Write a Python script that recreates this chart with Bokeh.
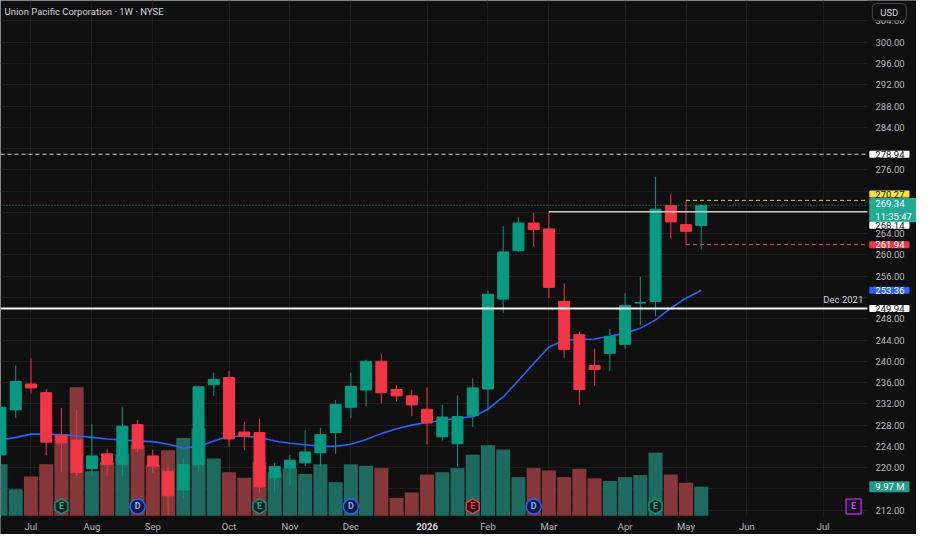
from bokeh.plotting import figure
from bokeh.models import Range1d, FixedTicker, Label, ColumnDataSource, NumeralTickFormatter, BoxAnnotation
from bokeh.embed import file_html
from bokeh.resources import INLINE
from bokeh.core.properties import value
import math

# ---------------- data ----------------
week_idx = list(range(-2, 45))   # weekly bars, 0 = week of 7 Jul 2025

opens = [222.4, 230.86, 235.73, 234.1, 226.1, 225.2, 219.8, 222.6, 220.6, 228.1,
         222.2, 219.3, 215.8, 220.5, 235.6, 236.95, 226.7, 226.6, 218.1, 219.9,
         220.9, 222.8, 226.6, 231.35, 234.6, 240.0, 234.7, 233.5, 230.98, 225.8,
         224.5, 229.75, 234.8, 251.7, 260.8, 266.0, 264.9, 251.25, 245.0, 239.2,
         241.5, 243.2, 250.95, 251.25, 269.3, 265.7, 265.55]
highs = [232.5, 239.2, 240.6, 234.8, 231.2, 230.9, 228.2, 223.55, 231.35, 229.0,
         223.4, 220.2, 221.7, 235.4, 237.9, 238.2, 228.6, 229.2, 220.9, 222.35,
         227.0, 227.5, 232.7, 237.9, 240.3, 241.4, 235.55, 234.6, 235.1, 231.8,
         233.6, 236.8, 253.2, 265.4, 267.1, 267.9, 268.14, 254.6, 245.65, 242.4,
         246.1, 252.8, 255.9, 274.7, 271.5, 270.27, 269.5]
lows = [220.8, 229.34, 233.9, 222.35, 219.1, 218.4, 218.4, 218.4, 218.4, 222.9,
        219.0, 211.1, 214.1, 219.3, 233.5, 223.9, 223.3, 215.3, 215.3, 216.6,
        220.3, 220.2, 222.6, 229.3, 231.5, 232.1, 232.5, 229.65, 224.35, 225.1,
        220.2, 227.65, 230.6, 249.1, 260.56, 261.6, 251.85, 240.6, 231.8, 235.4,
        238.2, 242.4, 246.7, 248.5, 263.1, 261.94, 261.0]
closes = [231.35, 236.22, 235.0, 224.8, 224.65, 219.1, 222.2, 220.6, 227.8, 223.55,
          220.2, 214.7, 220.6, 235.2, 236.6, 225.4, 225.9, 216.4, 220.2, 221.4,
          222.95, 226.2, 231.9, 235.3, 240.0, 234.1, 233.5, 231.8, 228.4, 229.5,
          229.6, 235.0, 252.6, 260.56, 266.0, 264.8, 253.9, 242.25, 234.7, 238.47,
          244.7, 250.5, 251.07, 268.6, 266.2, 264.45, 269.34]
volume_m = [17.6, 9.1, 13.4, 17.6, 27.9, 44.0, 15.2, 18.2, 21.1, 24.1,
            17.4, 22.4, 26.6, 29.9, 19.6, 14.9, 13.0, 18.5, 14.9, 16.2,
            14.3, 17.6, 11.5, 17.6, 17.1, 16.3, 6.1, 8.0, 14.1, 14.9,
            16.3, 20.9, 24.1, 22.7, 13.2, 16.3, 15.5, 13.2, 16.1, 12.8,
            11.9, 13.2, 13.9, 21.6, 14.1, 11.3, 9.97]
ma_values = [225.2, 225.7, 226.3, 226.3, 226.2, 226.0, 225.7, 225.4, 225.2, 225.0,
             224.9, 224.4, 223.7, 224.0, 225.0, 225.9, 225.9, 225.7, 225.0, 224.6,
             224.3, 224.0, 224.0, 224.4, 225.3, 226.4, 227.3, 228.0, 228.5, 228.9,
             229.3, 229.6, 231.0, 233.3, 236.4, 239.6, 242.7, 243.95, 244.1, 244.2,
             244.7, 245.3, 246.2, 247.8, 250.0, 251.85, 253.36]

month_ticks = [0, 4, 8, 13, 17, 21, 26, 30, 34, 39, 43, 47, 52]
month_labels = ["Jul", "Aug", "Sep", "Oct", "Nov", "Dec", "2026", "Feb", "Mar", "Apr", "May", "Jun", "Jul"]
price_ticks = list(range(212, 308, 4))
hidden_price_ticks = [280, 272, 268, 252, 216]   # covered by the price tags

event_idx = [2, 7, 15, 21, 29, 33, 41, 54]
event_kind = ["E", "D", "E", "D", "E", "D", "E", "E"]
event_style = ["earn", "div", "earn", "div", "earn_miss", "div", "earn", "earn_next"]

level_resist = 278.94      # dashed white
level_dec2021 = 249.94     # solid white, "Dec 2021"
level_feb_high = 268.14    # from week 34 high
prev_high = 270.27
prev_low = 261.94
last_price = 269.34
countdown = "11:35:47"
ma_last = 253.36
vol_last = 9.97
feb_high_week = 34
prev_week = 43

# ---------------- style ----------------
BG = "#0f0f0f"
GRID = "#1d1d1d"
TXT = "#b2b5be"
UP = "#089981"
DOWN = "#f23645"
VUP = "#1e6a5f"
VDOWN = "#853739"
FONT = "Roboto"
FS = "9.5px"

X0, X_AX, X_END = -2.0, 54.9, 58.13       # chart pane ends at X_AX, price scale beyond
Y_BOT, Y_PANE, Y_TOP = 207.43, 210.72, 307.85
p = figure(width=916, height=534, output_backend="svg", toolbar_location=None,
           x_range=Range1d(X0, X_END), y_range=Range1d(Y_BOT, Y_TOP),
           y_axis_location="right", background_fill_color=BG, border_fill_color=BG,
           outline_line_color=None, min_border_left=0, min_border_top=0,
           min_border_right=0, min_border_bottom=0)
p.extra_y_ranges = {"vol": Range1d(-6.41, 176.35)}

# axes (labels drawn over the scale strips)
xa = p.xaxis[0]
xa.ticker = FixedTicker(ticks=month_ticks)
overrides = {t: l for t, l in zip(month_ticks, month_labels)}
overrides[26] = ""
xa.major_label_overrides = overrides
ya = p.yaxis[0]
ya.ticker = FixedTicker(ticks=price_ticks)
ya.formatter = NumeralTickFormatter(format="0.00")
ya.major_label_overrides = {t: "" for t in hidden_price_ticks}
for ax in (xa, ya):
    ax.axis_line_color = None
    ax.major_tick_line_color = None
    ax.minor_tick_line_color = None
    ax.major_tick_out = 0
    ax.major_tick_in = 0
    ax.minor_tick_out = 0
    ax.major_label_text_color = TXT
    ax.major_label_text_font_size = FS
    ax.major_label_text_font = FONT
ya.major_label_standoff = -41
xa.major_label_standoff = -14
p.xgrid.ticker = FixedTicker(ticks=month_ticks)
p.ygrid.ticker = FixedTicker(ticks=price_ticks)
p.xgrid.grid_line_color = GRID
p.ygrid.grid_line_color = GRID

# scale strips hide the grid
p.add_layout(BoxAnnotation(left=X_AX, fill_color=BG, fill_alpha=1, line_color=None, level="underlay"))
p.add_layout(BoxAnnotation(top=Y_PANE, fill_color=BG, fill_alpha=1, line_color=None, level="underlay"))

# volume
is_up = [c >= o for o, c in zip(opens, closes)]
src = ColumnDataSource(dict(
    x=week_idx, o=opens, h=highs, l=lows, c=closes, v=volume_m,
    top=[max(o, c) for o, c in zip(opens, closes)],
    bot=[min(o, c) for o, c in zip(opens, closes)],
    col=[UP if u else DOWN for u in is_up],
    vcol=[VUP if u else VDOWN for u in is_up],
))
p.vbar(x="x", width=0.92, top="v", bottom=0, y_range_name="vol",
       fill_color="vcol", line_color=None, source=src)

# moving average
p.line(week_idx, ma_values, line_color="#2962ff", line_width=1.6)

# candles
p.segment(x0="x", y0="l", x1="x", y1="h", line_color="col", line_width=1, source=src)
p.vbar(x="x", width=0.72, top="top", bottom="bot", fill_color="col", line_color="col", source=src)

# levels
p.segment(x0=[X0], y0=[last_price], x1=[X_AX], y1=[last_price], line_color=UP, line_dash="1 2", line_width=1)
p.segment(x0=[X0], y0=[level_resist], x1=[X_AX], y1=[level_resist], line_color="#d1d4dc", line_dash="4 3", line_width=1)
p.segment(x0=[X0], y0=[level_dec2021], x1=[X_AX], y1=[level_dec2021], line_color="#ffffff", line_width=2)
p.segment(x0=[feb_high_week], y0=[level_feb_high], x1=[X_AX], y1=[level_feb_high], line_color="#c9c9c9", line_width=1.5)
p.segment(x0=[prev_week], y0=[prev_high], x1=[X_AX], y1=[prev_high], line_color="#e3d03c", line_width=1, line_dash="4 3")
p.segment(x0=[prev_week], y0=[prev_low], x1=[X_AX], y1=[prev_low], line_color=DOWN, line_width=1, line_dash="4 3")

# events
EV_Y = 3.2
styles = {
    "earn": ("hex", "#0c2420", UP, "#22ab94"),
    "earn_miss": ("hex", "#2a1014", DOWN, "#f23645"),
    "div": ("circle", "#101a40", "#2962ff", "#8aa8ff"),
    "earn_next": ("square", "#1c0e22", "#a22bc0", "#c43ee0"),
}
for kind_style in styles:
    xs = [x for x, s in zip(event_idx, event_style) if s == kind_style]
    ks = [k for k, s in zip(event_kind, event_style) if s == kind_style]
    if not xs:
        continue
    mk, fc, lc, tc = styles[kind_style]
    ang = math.pi / 6 if mk == "hex" else 0
    p.scatter(xs, [EV_Y] * len(xs), marker=mk, size=15, angle=ang, fill_color=fc,
              line_color=lc, line_width=1.5, y_range_name="vol")
    p.text(xs, [EV_Y] * len(xs), text=ks, y_range_name="vol", text_align="center",
           text_baseline="middle", text_font=value(FONT), text_font_size="9px",
           text_color=tc, text_font_style="bold")

# texts
p.add_layout(Label(x=X0, y=Y_TOP, x_offset=4, y_offset=-11, text="Union Pacific Corporation · 1W · NYSE",
                   anchor="center_left", text_color="#d1d4dc", text_font_size="9.5px", text_font=FONT))
p.add_layout(Label(x=X_AX, y=level_dec2021, x_offset=-4, y_offset=3, text="Dec 2021",
                   anchor="bottom_right", text_color="#d1d4dc", text_font_size=FS, text_font=FONT))
p.add_layout(Label(x=26, y=Y_BOT, y_offset=8.5, text="2026", anchor="center", level="overlay",
                   text_color="#d1d4dc", text_font_size=FS, text_font=FONT, text_font_style="bold"))

PAD = dict(left=6, right=5, top=0, bottom=0)


def tag(y, text, bg, fg, dy=0, yr="default", pad=PAD):
    p.add_layout(Label(x=X_AX, y=y, x_offset=2, y_offset=dy, text=text, anchor="center_left",
                       y_range_name=yr, text_color=fg, text_font_size=FS, text_font=FONT, level="overlay",
                       background_fill_color=bg, border_line_color=None, padding=pad, border_radius=1))


tag(level_resist, "278.94", "#ffffff", "#131722")
tag(prev_high, "270.27", "#f5e33b", "#131722", dy=6.3)
tag(last_price, "269.34\n" + countdown, "#22ab94", "#ffffff", dy=-4.8)
tag(level_feb_high, "268.14", "#ffffff", "#131722", dy=-13.6)
tag(prev_low, "261.94", DOWN, "#ffffff")
tag(ma_last, "253.36", "#2962ff", "#ffffff")
tag(level_dec2021, "249.94", "#ffffff", "#131722")
tag(vol_last, "9.97 M", "#1f9c88", "#ffffff", yr="vol")

p.add_layout(Label(x=X_AX, y=Y_TOP, x_offset=5, y_offset=-11.6, text="USD", anchor="center_left",
                   text_color="#d1d4dc", text_font_size=FS, text_font=FONT, level="overlay",
                   background_fill_color=BG, border_line_color="#434651", border_radius=4,
                   padding=dict(left=8, right=8, top=3, bottom=3)))

open("out.html", "w").write(file_html(p, INLINE))
